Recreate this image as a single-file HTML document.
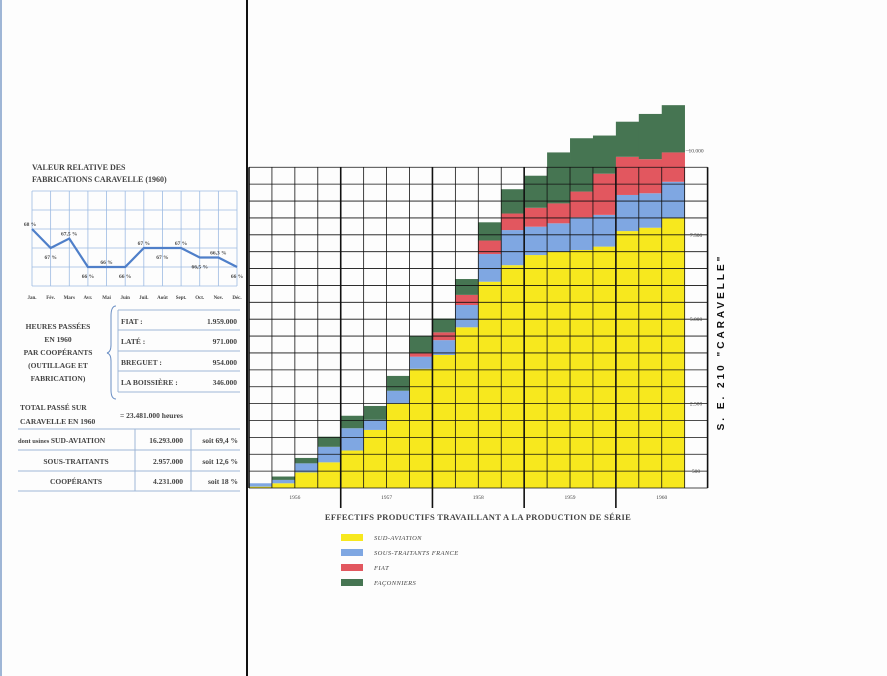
<!DOCTYPE html>
<html><head><meta charset="utf-8"><style>
body{margin:0;background:#fff;}
svg{display:block;font-family:"Liberation Serif",serif;}
#left text, .bold{font-weight:bold;}
</style></head><body>
<svg width="887" height="676" viewBox="0 0 887 676" xmlns="http://www.w3.org/2000/svg">
<rect x="0" y="0" width="887" height="676" fill="#fdfdfd"/>
<rect x="0" y="0" width="2" height="676" fill="#9fb6d6"/>
<rect x="246" y="0" width="2" height="676" fill="#111"/>

<g id="left">
<text x="32" y="170" font-size="8" fill="#444">VALEUR RELATIVE DES</text>
<text x="32" y="182" font-size="8" fill="#444">FABRICATIONS CARAVELLE (1960)</text>
<g id="lineGrid"></g>
<g id="lineMarks"></g>

<text font-size="7.5" fill="#444" text-anchor="middle">
<tspan x="58" y="329">HEURES PASSÉES</tspan><tspan x="58" y="342">EN 1960</tspan><tspan x="58" y="355">PAR COOPÉRANTS</tspan><tspan x="58" y="368">(OUTILLAGE ET</tspan><tspan x="58" y="381">FABRICATION)</tspan></text>
<path d="M116 306 Q111 306 111 316 L111 345 Q111 352 107 353 Q111 354 111 361 L111 390 Q111 399 116 399" fill="none" stroke="#6b8fc4" stroke-width="1"/>
<g stroke="#9fb6d6" stroke-width="1">
<line x1="118" y1="310" x2="118" y2="392"/>
<line x1="118" y1="310" x2="240" y2="310"/><line x1="118" y1="330" x2="240" y2="330"/>
<line x1="118" y1="351" x2="240" y2="351"/><line x1="118" y1="371" x2="240" y2="371"/><line x1="118" y1="392" x2="240" y2="392"/>
</g>
<g font-size="7.5" fill="#444">
<text x="121" y="324">FIAT :</text><text x="237" y="324" text-anchor="end">1.959.000</text>
<text x="121" y="344">LATÉ :</text><text x="237" y="344" text-anchor="end">971.000</text>
<text x="121" y="365">BREGUET :</text><text x="237" y="365" text-anchor="end">954.000</text>
<text x="121" y="385">LA BOISSIÈRE :</text><text x="237" y="385" text-anchor="end">346.000</text>
</g>
<text x="20" y="410" font-size="7.5" fill="#444">TOTAL PASSÉ SUR</text>
<text x="20" y="424" font-size="7.5" fill="#444">CARAVELLE EN 1960</text>
<text x="120" y="418" font-size="7.5" fill="#444">= 23.481.000 heures</text>
<g stroke="#9fb6d6" stroke-width="1">
<line x1="18" y1="429" x2="240" y2="429"/><line x1="18" y1="450" x2="240" y2="450"/>
<line x1="18" y1="471" x2="240" y2="471"/><line x1="18" y1="491" x2="240" y2="491"/>
<line x1="135" y1="429" x2="135" y2="491"/><line x1="191" y1="429" x2="191" y2="491"/>
</g>
<g font-size="7.5" fill="#444">
<text x="18" y="443"><tspan font-size="6.5">dont usines </tspan>SUD-AVIATION</text>
<text x="183" y="443" text-anchor="end">16.293.000</text><text x="238" y="443" text-anchor="end">soit 69,4 %</text>
<text x="76" y="464" text-anchor="middle">SOUS-TRAITANTS</text>
<text x="183" y="464" text-anchor="end">2.957.000</text><text x="238" y="464" text-anchor="end">soit 12,6 %</text>
<text x="76" y="484" text-anchor="middle">COOPÉRANTS</text>
<text x="183" y="484" text-anchor="end">4.231.000</text><text x="238" y="484" text-anchor="end">soit 18 %</text>
</g>
</g>

<g id="bars"></g>
<g id="grid"></g>
<g id="axis"></g>

<text x="0" y="0" transform="translate(724,342) rotate(-90)" font-family="Liberation Sans,sans-serif" font-weight="bold" font-size="10" letter-spacing="3" text-anchor="middle" fill="#111">S. E. 210 "CARAVELLE"</text>
<text x="478" y="520" font-size="8.5" fill="#444" text-anchor="middle" letter-spacing="0.3" class="bold">EFFECTIFS PRODUCTIFS TRAVAILLANT A LA PRODUCTION DE SÉRIE</text>
<g id="legend"></g>
</svg>
<script>
var NS="http://www.w3.org/2000/svg";
function mk(tag,attrs,parent){var e=document.createElementNS(NS,tag);for(var k in attrs)e.setAttribute(k,attrs[k]);parent.appendChild(e);return e;}

var months=["Jan.","Fév.","Mars","Avr.","Mai","Juin","Juil.","Août","Sept.","Oct.","Nov.","Déc."];
var monthValues=[68,67,67.5,66,66,66,67,67,67,66.5,66.5,66];
var monthLabels=["68 %","67 %","67,5 %","66 %","66 %","66 %","67 %","67 %","67 %","66,5 %","66,3 %","66 %"];

var years=["1956","1957","1958","1959","1960"];
var sudAviation=[40,140,460,760,1110,1720,2510,3530,3940,4760,6110,6600,6900,7000,7050,7150,7610,7710,7990];
var sousTraitants=[100,100,270,460,660,300,370,360,440,660,820,1040,840,840,970,940,1070,1020,1080];
var fiat=[0,0,0,0,0,0,0,100,230,300,400,490,560,590,760,1220,1130,1010,870];
var faconniers=[0,100,160,300,370,410,440,510,410,470,540,720,950,1510,1580,1130,1040,1340,1400];
var yTickValues=[10000,7500,5000,2500,500];
var yTickLabels=["10.000","7.500","5.000","2.500","500"];
var seriesNames=["SUD-AVIATION","SOUS-TRAITANTS    FRANCE","FIAT","FAÇONNIERS"];

/* line chart */
var lx0=32,lx1=237,ly0=191,ly1=286,lvMax=70,lvMin=65;
function lx(i){return lx0+i*(lx1-lx0)/(months.length-1);}
function ly(v){return ly0+(lvMax-v)*(ly1-ly0)/(lvMax-lvMin);}
var lg=document.getElementById('lineGrid');
for(var i=0;i<months.length;i++){
  var l=mk('line',{x1:lx(i),y1:ly0,x2:lx(i),y2:ly1,stroke:'#9dbbe2','stroke-width':0.8},lg);
  
  
  var t=mk('text',{x:lx(i),y:299,'font-size':5,'text-anchor':'middle',fill:'#444'},lg);
  t.textContent=months[i];
  
  
}
for(var v=lvMin;v<=lvMax;v++){
  var h=mk('line',{x1:lx0,y1:ly(v),x2:lx1,y2:ly(v),stroke:'#9dbbe2','stroke-width':0.8},lg);
  
  
}
var lm=document.getElementById('lineMarks');
var pts=monthValues.map(function(v,i){return lx(i)+','+ly(v);}).join(' ');
var pl=mk('polyline',{points:pts,fill:'none',stroke:'#4f7fc9','stroke-width':2.2},lm);


monthValues.forEach(function(v,i){
  var below=(i==1||i==3||i==5||i==7||i==9||i==11);
  var t=mk('text',{x:Math.min(Math.max(lx(i)+(i==0?-2:0),28),242),y:ly(v)+(below?11:-3),'font-size':5.5,'text-anchor':'middle',fill:'#444'},lm);
  t.textContent=monthLabels[i];
  
  
});

/* bar chart */
var bx0=249,colW=22.93,zeroY=488,pxPerUnit=0.03376,gridTopVal=9500,nCols=20;
function bx(i){return bx0+i*colW;}
function by(v){return zeroY-v*pxPerUnit;}
var colors=['#f7e81e','#7fa7e2','#e2575f','#467552'];
var series=[sudAviation,sousTraitants,fiat,faconniers];
var segNames=['bar-sud-aviation','bar-sous-traitants','bar-fiat','bar-faconniers'];
var bg=document.getElementById('bars');
for(var i=0;i<sudAviation.length;i++){
  var base=0;
  for(var s=0;s<4;s++){
    var val=series[s][i];
    if(val>0){
      var r=mk('rect',{x:bx(i),y:by(base+val),width:colW+0.3,height:val*pxPerUnit,fill:colors[s]},bg);
      
      
    }
    base+=val;
  }
}
var gg=document.getElementById('grid');
for(var v=0;v<=gridTopVal;v+=500){
  var h=mk('line',{x1:bx0,y1:by(v),x2:bx(nCols),y2:by(v),stroke:'#111','stroke-width':0.8},gg);
  
  
}
for(var i=0;i<=nCols;i++){
  var thick=(i%4==0);
  var l=mk('line',{x1:bx(i),y1:by(gridTopVal),x2:bx(i),y2:thick&&i>0&&i<nCols?zeroY+20:zeroY,stroke:'#111','stroke-width':thick?1.6:0.8},gg);
  
  
}
var ax=document.getElementById('axis');
years.forEach(function(y,k){
  var t=mk('text',{x:bx(k*4+2),y:499,'font-size':5.5,'text-anchor':'middle',fill:'#444'},ax);
  t.textContent=y;
  
  
});
yTickValues.forEach(function(v,k){
  var t=mk('text',{x:696,y:by(v)+2,'font-size':5.5,'text-anchor':'middle',fill:'#444'},ax);
  t.textContent=yTickLabels[k];
  
  
});
var tk=mk('line',{x1:bx(19)+1,y1:by(10000),x2:bx(19)+6,y2:by(10000),stroke:'#999','stroke-width':0.6},ax);



var lgd=document.getElementById('legend');
seriesNames.forEach(function(n,k){
  var r=mk('rect',{x:341,y:534+k*15,width:22,height:7,fill:colors[k]},lgd);
  
  
  var t=mk('text',{x:374,y:540+k*15,'font-size':6.5,'font-style':'italic',fill:'#444','letter-spacing':0.4},lgd);
  t.textContent=n;
  
  
});
</script>
</body></html>
